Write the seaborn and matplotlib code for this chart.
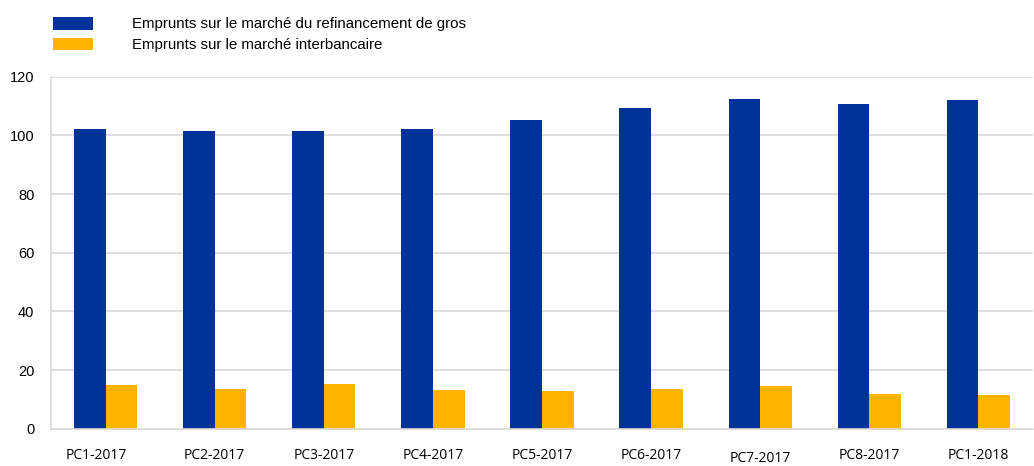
import numpy as np
import pandas as pd
import matplotlib.pyplot as plt
import seaborn as sns
from matplotlib.patches import Patch
from matplotlib.transforms import ScaledTranslation

# Data
periods = ['PC1-2017', 'PC2-2017', 'PC3-2017', 'PC4-2017', 'PC5-2017',
           'PC6-2017', 'PC7-2017', 'PC8-2017', 'PC1-2018']
wholesale = [102.2, 101.6, 101.5, 102.2, 105.4, 109.3, 112.5, 110.7, 112.2]
interbank = [15.0, 13.6, 15.3, 13.3, 13.0, 13.6, 14.4, 11.9, 11.6]
series_names = ['Emprunts sur le marché du refinancement de gros',
                'Emprunts sur le marché interbancaire']
colors = ['#003299', '#FFB400']

df = pd.DataFrame({
    'period': periods * 2,
    'value': wholesale + interbank,
    'series': [series_names[0]] * len(periods) + [series_names[1]] * len(periods),
})

sns.set_theme(style='white')
plt.rcParams['font.family'] = ['Liberation Sans', 'DejaVu Sans']

fig = plt.figure(figsize=(10.34, 4.66), dpi=100)
ax = fig.add_axes([51 / 1034, 1 - 428.7 / 466, 982 / 1034, 352 / 466])

sns.barplot(data=df, x='period', y='value', hue='series', palette=colors,
            width=0.58, gap=0, saturation=1, legend=False, linewidth=0, ax=ax)

ax.set_ylim(0, 120)
ax.set_yticks(range(0, 121, 20))
ax.set_xlim(-0.5, len(periods) - 0.5)
ax.yaxis.grid(True, color='#d9d9d9', linewidth=1.2)
ax.set_axisbelow(True)
ax.set_xlabel('')
ax.set_ylabel('')
for s in ['top', 'right']:
    ax.spines[s].set_visible(False)
for s in ['left', 'bottom']:
    ax.spines[s].set_color('#d9d9d9')
    ax.spines[s].set_linewidth(1.2)

ax.tick_params(axis='y', length=0, labelsize=10.5, pad=12, labelcolor='black')
ax.tick_params(axis='x', length=0, pad=14)
for i, lbl in enumerate(ax.get_xticklabels()):
    lbl.set_fontfamily(['Open Sans', 'DejaVu Sans'])
    lbl.set_fontsize(10)
    lbl.set_color('black')
    # the reference prints PC7-2017 a touch lower and PC1-2017 a touch left
    if lbl.get_text() == 'PC7-2017':
        lbl.set_transform(lbl.get_transform() + ScaledTranslation(0, -2 / 72, fig.dpi_scale_trans))
    if i == 0:
        lbl.set_transform(lbl.get_transform() + ScaledTranslation(-7 / 72, 0, fig.dpi_scale_trans))

handles = [Patch(facecolor=c, edgecolor='none') for c in colors]
fig.legend(handles, series_names, loc='upper left',
           bbox_to_anchor=(47 / 1034, 1 - 11 / 466), frameon=False,
           fontsize=10.8, handlelength=2.65, handleheight=0.92,
           handletextpad=2.6, labelspacing=0.42, borderaxespad=0,
           labelcolor='black')

fig.savefig('out.png', dpi=100)
